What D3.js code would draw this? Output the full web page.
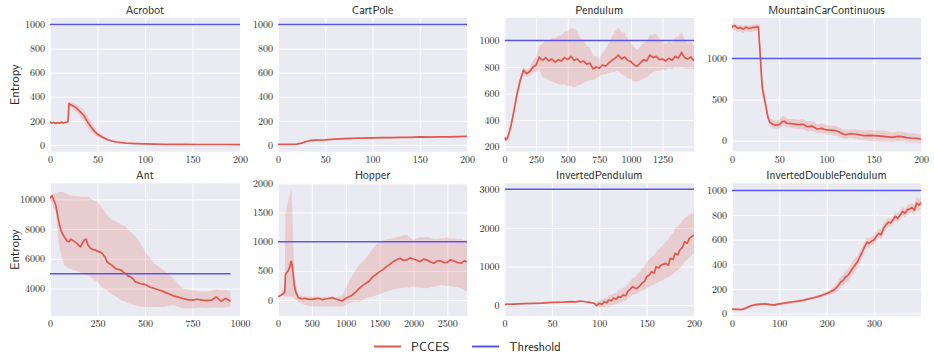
<!DOCTYPE html>
<html>
<head>
<meta charset="utf-8">
<script src="https://cdn.jsdelivr.net/npm/d3@7"></script>
<style>
body{margin:0;background:#fff;}
svg text{fill:#262626;}
</style>
</head>
<body>
<svg id="svg_canvas" width="934" height="364"></svg>
<script>

// ---- data ----

var acrobotStep=[0,2,4,6,8,10,12,14,16,18,19,20,21,23,25,27,30,33,36,40,43,46,50,55,60,65,70,80,90,100,120,140,160,180,200];
var acrobotMean=[190,182,186,178,185,180,188,183,186,190,195,345,338,330,322,312,290,265,240,185,150,120,88,65,45,32,24,15,11,8,5,4,3,3,2];
var acrobotLow=[180,172,176,168,175,170,178,173,176,180,185,330,320,305,295,280,252,222,195,140,110,88,65,50,36,26,20,12,9,6,4,3,2,2,1];
var acrobotHigh=[200,192,196,188,195,190,198,193,196,200,205,358,352,350,345,340,325,305,285,232,195,155,112,82,56,40,29,18,13,10,7,5,4,4,3];

var cartpoleStep=[0,10,20,25,30,35,40,50,60,70,80,90,100,110,120,130,140,150,160,170,180,190,200];
var cartpoleMean=[5,5,6,15,28,38,40,42,48,52,55,57,58,60,60,62,63,66,64,66,67,68,70];
var cartpoleLow=[2,2,3,11,23,33,35,37,43,47,50,52,53,55,55,57,58,61,59,61,62,63,65];
var cartpoleHigh=[8,8,9,19,33,43,45,47,53,57,60,62,63,65,65,67,68,71,69,71,72,73,75];

var pendulumStep=[0,10,25,50,75,100,125,150,175,200,225,250,275,300,325,350,375,400,425,450,475,500,525,550,575,600,625,650,675,700,725,750,775,800,825,850,875,900,925,950,975,1000,1025,1050,1075,1100,1125,1150,1175,1200,1225,1250,1275,1300,1325,1350,1375,1400,1425,1450,1475,1499];
var pendulumMean=[270,250,265,350,470,600,700,775,750,765,800,815,875,850,870,845,860,835,855,845,870,855,880,850,860,835,845,820,830,785,800,790,815,805,830,850,865,890,860,875,850,840,815,805,830,855,845,890,870,880,855,860,845,865,850,880,865,910,870,860,875,845];
var pendulumLow=[255,235,250,330,445,575,675,750,725,735,760,760,780,720,720,700,690,680,670,665,670,655,660,645,660,665,680,690,700,700,715,730,745,745,755,760,765,770,745,735,715,705,690,690,700,710,720,745,760,770,770,780,775,790,785,795,790,800,790,785,790,780];
var pendulumHigh=[285,265,280,370,495,625,725,800,775,800,845,880,960,975,1000,1000,1020,1015,1035,1040,1065,1070,1095,1090,1070,1020,1000,960,945,880,880,860,900,935,980,1030,1070,1095,1060,1060,1010,985,950,930,955,985,990,1040,1045,1050,1015,990,975,990,980,1020,1030,1060,1010,975,990,960];

var mountainStep=[0,3,6,9,12,15,18,21,24,27,28,29,30,31,32,33,34,36,38,40,43,46,50,53,55,58,60,65,70,75,80,85,90,95,100,105,110,113,116,120,125,130,135,140,145,150,155,160,165,170,175,180,185,190,195,200];
var mountainMean=[1385,1400,1370,1375,1360,1380,1365,1375,1380,1385,1390,1200,1020,820,653,590,530,408,285,224,200,190,196,230,240,215,212,205,196,200,171,178,143,150,131,128,122,110,90,73,85,82,72,61,65,61,58,53,48,41,52,49,38,33,30,20];
var mountainLow=[1340,1350,1320,1330,1310,1335,1320,1330,1335,1340,1345,1100,900,700,560,500,450,350,240,180,150,150,150,170,180,160,160,150,140,140,115,120,90,95,75,70,65,55,35,20,30,25,15,5,0,-5,-10,-15,-15,-20,-10,-10,-20,-25,-25,-35];
var mountainHigh=[1420,1430,1405,1410,1400,1415,1400,1410,1415,1420,1425,1300,1140,940,760,680,610,470,340,270,260,240,255,300,300,275,265,265,255,265,230,240,200,210,190,185,180,165,145,130,140,140,130,120,130,125,125,120,110,100,115,110,95,90,85,75];

var antStep=[0,10,20,30,40,50,60,75,90,100,110,125,140,150,160,170,180,190,200,210,220,235,250,265,275,290,300,315,325,340,350,365,375,390,400,410,425,440,450,465,475,490,500,525,550,575,600,625,650,675,700,725,750,775,800,825,850,875,900,925,950];
var antMean=[10067,10250,9955,9618,8944,8270,7820,7483,7200,7146,7326,7190,7050,6921,6800,7050,7250,7326,6921,6750,6652,6600,6517,6450,6360,6100,5798,5650,5573,5400,5303,5280,5236,5050,5011,4850,4787,4600,4449,4380,4337,4300,4270,4100,4000,3900,3775,3650,3506,3420,3326,3250,3213,3280,3213,3180,3213,3438,3146,3326,3146];
var antLow=[9900,9800,9400,9170,7820,6697,6200,5573,5450,5350,5300,5250,5180,5125,5080,5020,4960,4930,4900,4800,4700,4560,4449,4200,4050,3950,3888,3700,3600,3500,3438,3300,3200,3150,3100,3000,2950,2900,2876,2820,2790,2770,2764,2764,2764,2764,2764,2820,2876,2750,2652,2652,2652,2700,2700,2680,2700,2720,2700,2720,2750];
var antHigh=[10200,10350,10400,10404,10450,10517,10500,10450,10380,10292,10250,10230,10220,10200,10190,10180,10180,10180,10180,10100,10000,9920,9843,9600,9400,9150,8944,8750,8650,8550,8494,8400,8300,8220,8157,7950,7800,7650,7483,7250,7050,6750,6472,6100,5685,5450,5236,4950,4674,4300,4000,3950,3888,3830,3775,3800,3850,3950,3888,3900,3800];

var hopperStep=[0,50,90,100,110,130,150,175,190,200,215,240,260,300,350,400,450,500,550,600,650,700,750,800,850,900,950,1000,1050,1100,1150,1200,1250,1300,1350,1400,1450,1500,1550,1600,1650,1700,1750,1800,1850,1900,1950,2000,2050,2100,2150,2200,2250,2300,2350,2400,2450,2500,2550,2600,2650,2700,2750,2790];
var hopperMean=[57,86,120,143,429,474,497,571,657,657,543,257,143,40,17,29,10,11,20,29,5,17,25,40,17,0,-17,29,55,86,140,200,250,286,330,400,440,486,520,571,610,657,690,714,680,686,720,703,680,657,700,686,650,629,670,669,640,646,690,669,640,629,670,657];
var hopperLow=[57,80,60,57,60,57,57,57,57,57,50,29,0,-29,-60,-90,-100,-114,-110,-114,-114,-114,-114,-110,-114,-114,-110,-86,-60,-29,-20,-29,0,30,45,57,80,100,120,143,160,180,190,200,210,215,220,229,215,210,205,200,215,230,240,257,250,245,240,230,220,200,170,143];
var hopperHigh=[57,90,250,380,1457,1600,1686,1800,1914,1850,1457,486,300,86,70,60,57,57,60,57,55,60,57,55,50,57,90,200,320,429,520,600,660,714,800,886,950,1000,1020,1040,1050,1057,1080,1090,1110,1114,1070,1029,1060,1080,1070,1086,1060,1050,1040,1057,1060,1070,1050,1060,1040,1050,1030,1020];

var invpendStep=[0,10,20,30,40,50,60,70,75,80,85,90,95,97,100,103,105,108,110,113,115,118,120,123,125,128,130,133,135,138,140,143,145,148,150,153,155,158,160,163,165,168,170,173,175,178,180,183,185,188,190,193,195,198,200];
var invpendMean=[17,25,35,43,50,69,72,86,80,104,85,69,40,-17,43,20,86,60,130,110,180,150,216,200,259,240,346,420,475,432,432,500,562,620,735,780,864,830,994,960,1037,1060,1080,1030,1210,1180,1340,1300,1426,1500,1642,1600,1729,1780,1815];
var invpendLow=[4,12,22,30,37,56,59,73,67,91,72,56,20,-43,-43,-60,-43,-40,-43,-30,10,20,43,60,90,110,173,220,260,280,302,340,370,400,432,470,500,530,562,600,630,660,691,720,760,800,864,900,950,1040,1124,1180,1230,1300,1340];
var invpendHigh=[30,38,48,56,63,82,85,99,93,117,98,82,60,60,130,140,170,180,250,260,300,310,380,400,450,480,560,620,700,720,800,850,950,1020,1124,1180,1250,1300,1383,1450,1500,1560,1642,1700,1800,1850,1988,2050,2100,2200,2247,2300,2330,2370,2377];

var invdoubleStep=[0,10,20,25,30,40,50,60,70,80,90,100,110,120,130,140,150,160,170,180,190,200,205,210,215,220,225,230,235,240,245,250,255,260,265,270,275,280,285,290,295,300,305,310,315,320,325,330,335,340,345,350,355,360,365,370,375,380,385,390,395,399];
var invdoubleMean=[35,34,33,38,46,63,73,76,79,73,71,79,84,90,96,101,108,117,126,136,148,163,170,182,190,209,230,258,270,299,310,340,370,394,420,462,500,543,580,571,590,598,630,652,640,693,720,742,735,761,790,774,800,829,815,842,850,861,840,897,880,902];
var invdoubleLow=[25,24,23,28,36,53,63,66,69,63,61,69,74,80,86,90,97,106,115,124,134,146,150,160,165,175,190,215,225,250,260,290,320,345,370,415,455,500,545,535,555,562,595,615,600,655,685,710,700,728,755,740,765,795,780,805,812,825,800,850,835,850];
var invdoubleHigh=[45,44,43,48,56,73,83,86,89,83,81,89,94,100,106,112,119,128,137,148,162,180,190,205,220,245,270,300,320,350,365,395,425,450,470,510,545,585,615,610,625,635,665,690,680,730,755,775,770,795,825,810,835,865,850,880,890,900,885,950,930,960];

var envNames=["Acrobot","CartPole","Pendulum","MountainCarContinuous","Ant","Hopper","InvertedPendulum","InvertedDoublePendulum"];
var thresholds=[1000,1000,1000,1000,5000,1000,3000,1000];
var xDomains=[[0,200],[0,200],[0,1499],[0,200],[0,1000],[0,2790],[0,200],[0,399]];
var yDomains=[[-55,1055],[-55,1055],[162,1169],[-131,1493],[2150,11080],[-275,2000],[-285,3156],[-20,1058]];
var xTicks=[[0,50,100,150,200],[0,50,100,150,200],[0,250,500,750,1000,1250],[0,50,100,150,200],[0,250,500,750,1000],[0,500,1000,1500,2000,2500],[0,50,100,150,200],[0,100,200,300]];
var yTicks=[[0,200,400,600,800,1000],[0,200,400,600,800,1000],[200,400,600,800,1000],[0,500,1000],[4000,6000,8000,10000],[0,500,1000,1500,2000],[0,1000,2000,3000],[0,200,400,600,800,1000]];
var legendLabels=["PCCES","Threshold"];

var series=[
	[acrobotStep,acrobotMean,acrobotLow,acrobotHigh],
	[cartpoleStep,cartpoleMean,cartpoleLow,cartpoleHigh],
	[pendulumStep,pendulumMean,pendulumLow,pendulumHigh],
	[mountainStep,mountainMean,mountainLow,mountainHigh],
	[antStep,antMean,antLow,antHigh],
	[hopperStep,hopperMean,hopperLow,hopperHigh],
	[invpendStep,invpendMean,invpendLow,invpendHigh],
	[invdoubleStep,invdoubleMean,invdoubleLow,invdoubleHigh]
];

// ---- layout ----
var red="#E0584C";
var blue="#5656EE";
var serif='"Latin Modern Roman","CMU Serif","Liberation Serif",serif';
var sans='"Latin Modern Sans","CMU Sans Serif",Lato,sans-serif';
var cols=[[50,240],[278,467],[504.5,694],[732,921]];
var rows=[[18,151.5],[183.3,316]];

var svg=d3.select("#svg_canvas");

function draw_panel(i){

	var col=i%4;
	var row=Math.floor(i/4);
	var left=cols[col][0], right=cols[col][1];
	var top=rows[row][0], bottom=rows[row][1];

	var x=d3.scaleLinear().domain(xDomains[i]).range([left,right]);
	var y=d3.scaleLinear().domain(yDomains[i]).range([bottom,top]);

	var g=svg.append("g");

	g.append("rect")
		.attr("x",left).attr("y",top)
		.attr("width",right-left).attr("height",bottom-top)
		.attr("fill","#EAEAF2");

	//axes double as the white grid
	var xa=g.append("g")
		.attr("transform","translate(0,"+bottom+")")
		.call(d3.axisBottom(x).tickValues(xTicks[i]).tickSizeInner(-(bottom-top)).tickSizeOuter(0).tickPadding(4).tickFormat(d3.format("d")));
	var ya=g.append("g")
		.attr("transform","translate("+left+",0)")
		.call(d3.axisLeft(y).tickValues(yTicks[i]).tickSizeInner(-(right-left)).tickSizeOuter(0).tickPadding(5).tickFormat(d3.format("d")));
	[xa,ya].forEach(function(a){
		a.attr("font-family",null);
		a.select(".domain").remove();
		a.selectAll(".tick line").attr("stroke","#fff").attr("stroke-width",1);
		a.selectAll(".tick text")
			.style("font-family",serif)
			.style("font-size","10px")
			.attr("fill","#262626");
	});

	g.append("clipPath").attr("id","clip"+i)
		.append("rect").attr("x",left).attr("y",top).attr("width",right-left).attr("height",bottom-top);

	var s=series[i];
	var pts=s[0].map(function(d,k){ return {x:d, m:s[1][k], lo:s[2][k], hi:s[3][k]}; });

	var plot=g.append("g").attr("clip-path","url(#clip"+i+")");

	plot.append("path")
		.datum(pts)
		.attr("fill",red)
		.attr("fill-opacity",0.2)
		.attr("d",d3.area().x(function(d){return x(d.x);}).y0(function(d){return y(d.lo);}).y1(function(d){return y(d.hi);}));

	plot.append("path")
		.datum(pts)
		.attr("fill","none")
		.attr("stroke",red)
		.attr("stroke-width",1.7)
		.attr("stroke-linejoin","round")
		.attr("d",d3.line().x(function(d){return x(d.x);}).y(function(d){return y(d.m);}));

	//threshold runs over the same steps as the run
	var first=s[0][0], last=s[0][s[0].length-1];
	plot.append("line")
		.attr("x1",x(first)).attr("x2",x(last))
		.attr("y1",y(thresholds[i])).attr("y2",y(thresholds[i]))
		.attr("stroke",blue)
		.attr("stroke-width",1.5);

	g.append("text")
		.attr("x",(left+right)/2)
		.attr("y",top-4)
		.attr("text-anchor","middle")
		.style("font-family",sans)
		.style("font-size","11.5px")
		.text(envNames[i]);

	if(col==0){
		g.append("text")
			.attr("transform","translate(19,"+((top+bottom)/2)+") rotate(-90)")
			.attr("text-anchor","middle")
			.style("font-family",sans)
			.style("font-size","12.5px")
			.text("Entropy");
	}
}

for(var i=0;i<envNames.length;i++){
	draw_panel(i);
}

// legend
var legend=svg.append("g");
var legendColors=[red,blue];
var legendX=[374,472];
legendLabels.forEach(function(label,k){
	legend.append("line")
		.attr("x1",legendX[k]).attr("x2",legendX[k]+27)
		.attr("y1",346.5).attr("y2",346.5)
		.attr("stroke",legendColors[k])
		.attr("stroke-width",2);
	legend.append("text")
		.attr("x",legendX[k]+37)
		.attr("y",351)
		.style("font-family",sans)
		.style("font-size","12.5px")
		.text(label);
});

</script>
</body>
</html>
